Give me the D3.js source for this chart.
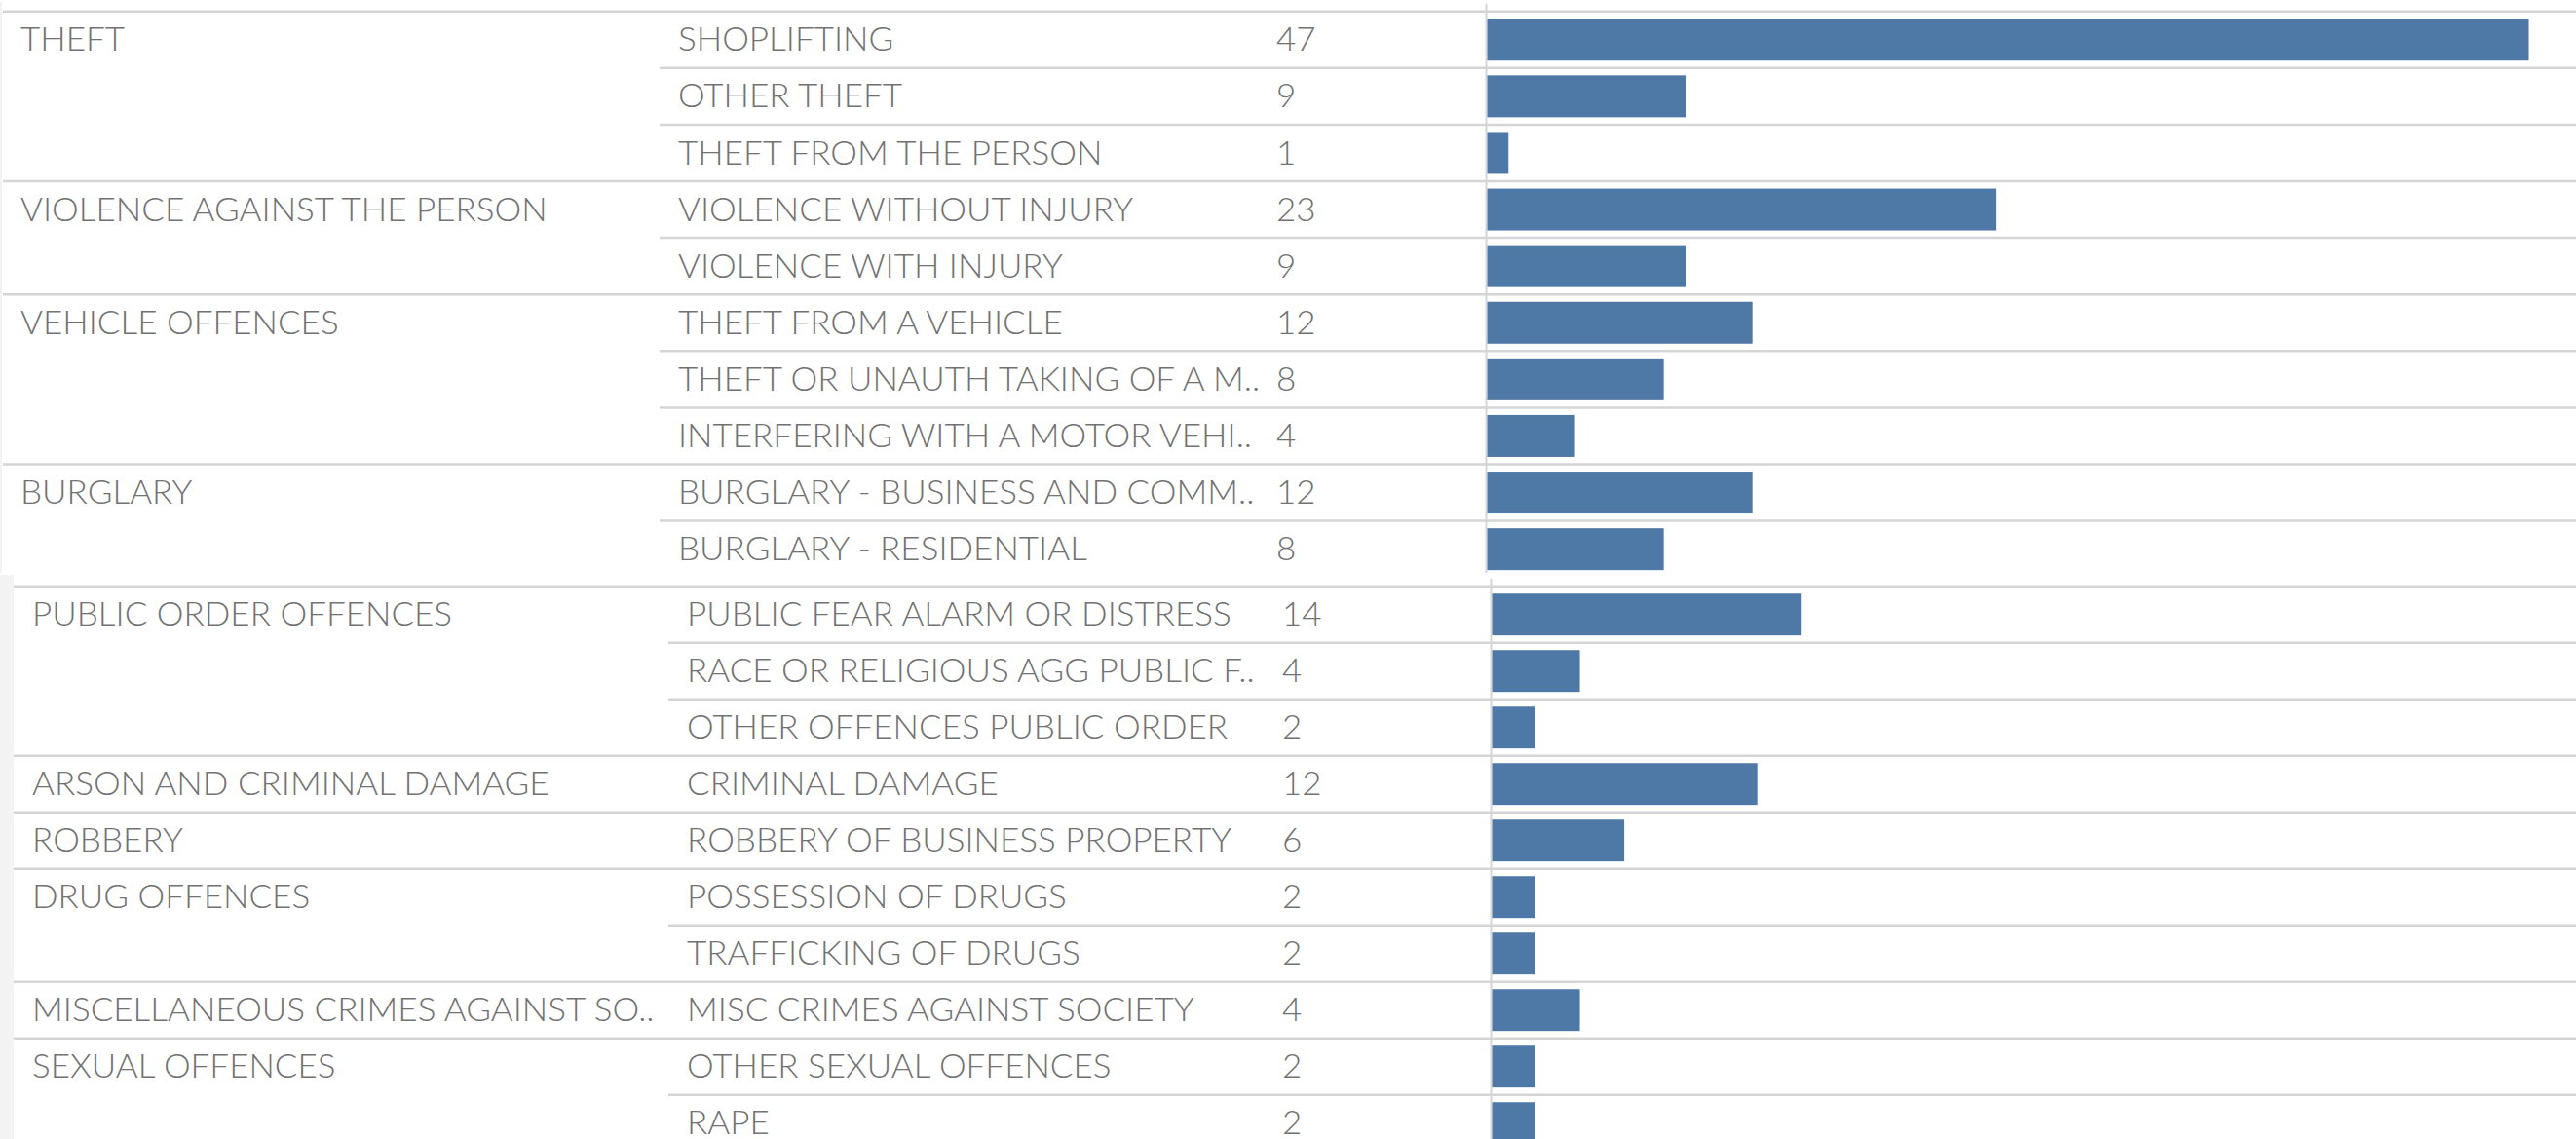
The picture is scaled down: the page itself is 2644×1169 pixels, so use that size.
<!DOCTYPE html>
<html>
<head>
<meta charset="utf-8">
<script src="https://cdn.jsdelivr.net/npm/d3@7"></script>
<style>
  html, body { margin: 0; padding: 0; background: #fff; }
  svg { display: block; }
  text { font-family: Lato, "Liberation Sans", sans-serif; font-weight: 300; fill: #727272; }
</style>
</head>
<body>
<div id="chart"></div>
<script>
const groupNames = [
    "THEFT",
    "VIOLENCE AGAINST THE PERSON",
    "VEHICLE OFFENCES",
    "BURGLARY",
    "PUBLIC ORDER OFFENCES",
    "ARSON AND CRIMINAL DAMAGE",
    "ROBBERY",
    "DRUG OFFENCES",
    "MISCELLANEOUS CRIMES AGAINST SO..",
    "SEXUAL OFFENCES"
];
const groupSizes = [3, 2, 3, 2, 3, 1, 1, 2, 1, 2];

const subCategories = [
    "SHOPLIFTING",
    "OTHER THEFT",
    "THEFT FROM THE PERSON",
    "VIOLENCE WITHOUT INJURY",
    "VIOLENCE WITH INJURY",
    "THEFT FROM A VEHICLE",
    "THEFT OR UNAUTH TAKING OF A M..",
    "INTERFERING WITH A MOTOR VEHI..",
    "BURGLARY - BUSINESS AND COMM..",
    "BURGLARY - RESIDENTIAL",
    "PUBLIC FEAR ALARM OR DISTRESS",
    "RACE OR RELIGIOUS AGG PUBLIC F..",
    "OTHER OFFENCES PUBLIC ORDER",
    "CRIMINAL DAMAGE",
    "ROBBERY OF BUSINESS PROPERTY",
    "POSSESSION OF DRUGS",
    "TRAFFICKING OF DRUGS",
    "MISC CRIMES AGAINST SOCIETY",
    "OTHER SEXUAL OFFENCES",
    "RAPE"
];
const counts = [47, 9, 1, 23, 9, 12, 8, 4, 12, 8, 14, 4, 2, 12, 6, 2, 2, 4, 2, 2];

// the picture is two screenshots stacked, 10 rows each
const panelSizes = [10, 10];

const width = 2644;
const height = 1169;
const fontSize = 34;
const squeeze = 1.03;

const rows = [];
groupNames.forEach((g, gi) => {
    for (let k = 0; k < groupSizes[gi]; k++) {
        rows.push({group: g, first: k === 0});
    }
});
rows.forEach((r, i) => {
    r.sub = subCategories[i];
    r.value = counts[i];
});

const panels = [
    {top: 11.7, step: 58.1, clip: [0, 588], groupX: 21, groupLineX: 3, subX: 696, subLineX: 677, numX: 1310, barX: 1525.5, strip: 2},
    {top: 601.7, step: 58, clip: [588, 1169], groupX: 33, groupLineX: 14, subX: 705, subLineX: 686, numX: 1316, barX: 1530.5, strip: 14}
];

const xScale = d3.scaleLinear()
    .domain([0, d3.max(counts)])
    .range([0, 1070]);

const svg = d3.select('#chart').append('svg')
    .attr('width', width)
    .attr('height', height);

let start = 0;
panels.forEach((p, pi) => {
    const n = panelSizes[pi];
    const data = rows.slice(start, start + n);
    start += n;

    const clipId = 'clip' + pi;
    svg.append('clipPath').attr('id', clipId)
        .append('rect')
        .attr('x', 0).attr('y', p.clip[0])
        .attr('width', width).attr('height', p.clip[1] - p.clip[0]);

    const g = svg.append('g').attr('clip-path', `url(#${clipId})`);
    const tg = svg.append('g');

    // little grey edge on the left of each screenshot
    g.append('rect')
        .attr('x', 0).attr('y', p.clip[0] + 2)
        .attr('width', p.strip).attr('height', p.clip[1] - p.clip[0])
        .attr('fill', '#f3f3f3');

    const yScale = d3.scaleBand()
        .domain(d3.range(n))
        .range([p.top, p.top + n * p.step])
        .paddingInner(0.26)
        .paddingOuter(0.13);

    const rowTop = i => p.top + i * yScale.step();

    // row separators
    const lines = d3.range(n + 1).map(i => ({
        y: rowTop(i),
        x0: (i === 0 || i === n || data[i].first) ? p.groupLineX : p.subLineX
    }));
    g.selectAll('line.row')
        .data(lines)
        .enter()
        .append('line')
        .attr('class', 'row')
        .attr('x1', d => d.x0)
        .attr('x2', width)
        .attr('y1', d => d.y)
        .attr('y2', d => d.y)
        .attr('stroke', '#d5d5d5')
        .attr('stroke-width', 2.5);

    // pane divider before the bars
    g.append('line')
        .attr('x1', p.barX).attr('x2', p.barX)
        .attr('y1', p.top - 8).attr('y2', p.clip[1])
        .attr('stroke', '#d5d5d5')
        .attr('stroke-width', 2);

    g.selectAll('rect.bar')
        .data(data)
        .enter()
        .append('rect')
        .attr('class', 'bar')
        .attr('x', p.barX + 1)
        .attr('y', (d, i) => yScale(i))
        .attr('width', d => xScale(d.value) - 1)
        .attr('height', yScale.bandwidth())
        .attr('fill', '#4e79a7');

    const place = (xPos, i) =>
        `translate(${xPos},${rowTop(i) + yScale.step() / 2}) scale(${squeeze},1)`;

    const label = (items, xPos, fn) => tg.selectAll(null)
        .data(items)
        .enter()
        .append('text')
        .attr('transform', d => place(xPos, data.indexOf(d)))
        .attr('dy', '0.34em')
        .style('font-size', fontSize + 'px')
        .text(fn);

    label(data.filter(d => d.first), p.groupX, d => d.group);
    label(data, p.subX, d => d.sub);
    label(data, p.numX, d => d.value);
});
</script>
</body>
</html>
